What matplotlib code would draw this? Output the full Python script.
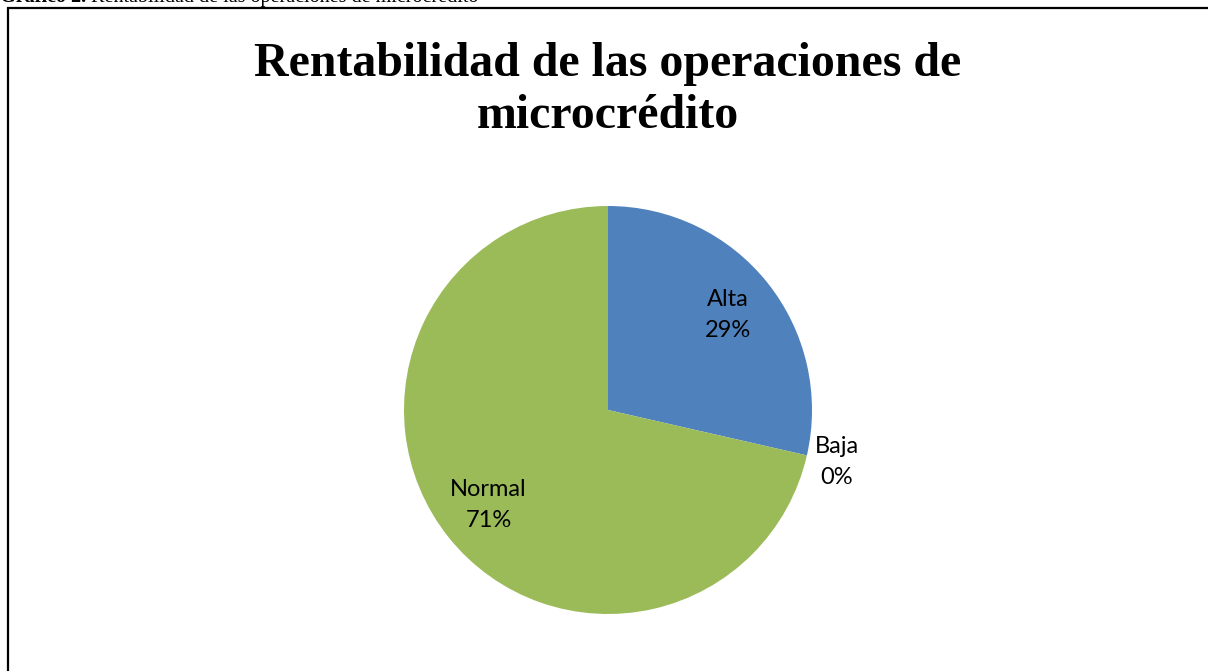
import matplotlib
matplotlib.use('Agg')
import matplotlib.pyplot as plt
from matplotlib.patches import Rectangle
import numpy as np

# datos
categorias = ['Alta', 'Baja', 'Normal']
valores = [2, 0, 5]
colores = ['#4F81BD', '#C0504D', '#9BBB59']
titulo = 'Rentabilidad de las operaciones de\nmicrocrédito'

W, H = 1208, 671
fig = plt.figure(figsize=(W / 100, H / 100), dpi=100)

# marco del gráfico
fig.patches.append(Rectangle((8 / W, -0.1), 1.2, 1 - 8 / H + 0.1, transform=fig.transFigure,
                             fill=False, edgecolor='black', linewidth=1.6))

# leyenda del documento (cortada arriba, como en el original)
t1 = fig.text(0.0, 1 - 7 / H, 'Gráfico 2.', fontsize=14.5, fontweight='bold',
              family='Liberation Serif', va='bottom', ha='left')
fig.canvas.draw()
fig.text(0, 0, ' Rentabilidad de las operaciones de microcrédito', fontsize=14.5,
         family='Liberation Serif', va='bottom', ha='left',
         transform=matplotlib.transforms.offset_copy(
             fig.transFigure, fig=fig,
             x=t1.get_window_extent().x1 * 72 / fig.dpi,
             y=t1.get_window_extent().y0 * 72 / fig.dpi, units='points'))

fig.text(608 / W, 1 - 90 / H, titulo, fontsize=34.5, fontweight='bold',
         family='Liberation Serif', ha='center', va='center', linespacing=1.25)

r = 204
ax = fig.add_axes([(608 - r) / W, (H - 410 - r) / H, 2 * r / W, 2 * r / H])
wedges, _ = ax.pie(valores, colors=colores, startangle=90, counterclock=False,
                   radius=1, wedgeprops=dict(linewidth=0))
ax.set_xlim(-1, 1)
ax.set_ylim(-1, 1)
ax.set_aspect('equal')
ax.axis('off')

total = sum(valores)
for w, cat, v in zip(wedges, categorias, valores):
    ang = np.deg2rad((w.theta1 + w.theta2) / 2)
    d = 0.75 if v > 0 else 1.15
    ax.text(d * np.cos(ang), d * np.sin(ang), f'{cat}\n{v / total:.0%}',
            ha='center', va='center', fontsize=17, family='Lato', linespacing=1.6)

fig.savefig('out.png', dpi=100)
